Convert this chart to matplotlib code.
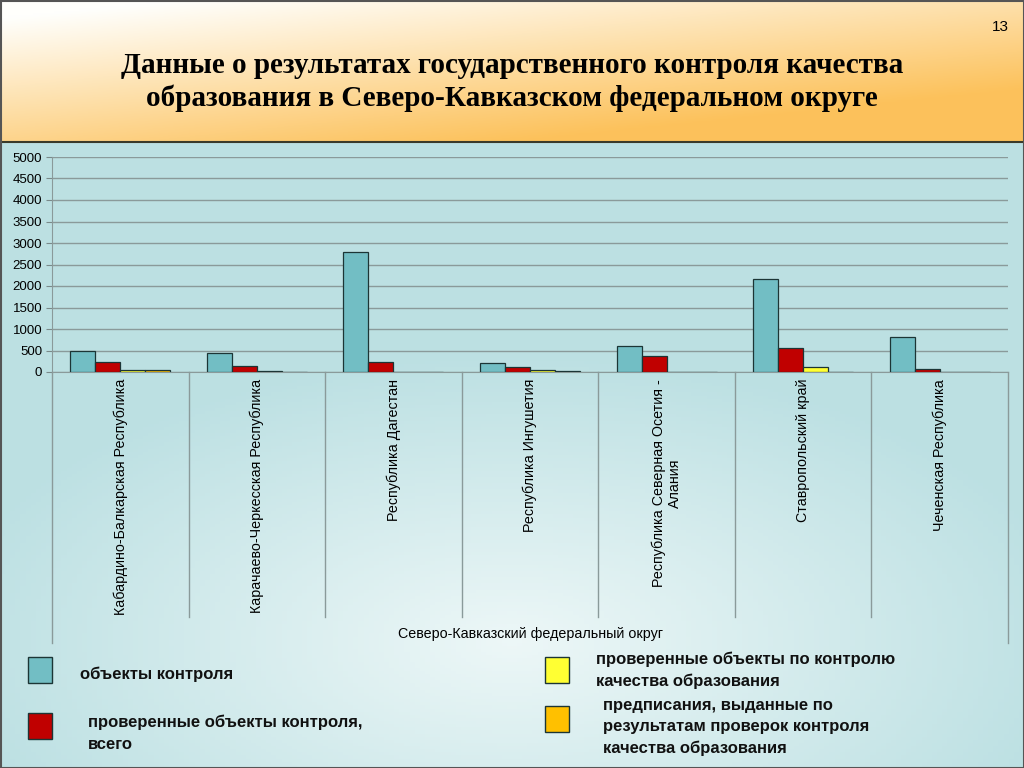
import numpy as np
import matplotlib
matplotlib.use('Agg')
import matplotlib.pyplot as plt
from matplotlib.patches import Rectangle

regions = ['Кабардино-Балкарская Республика', 'Карачаево-Черкесская Республика',
           'Республика Дагестан', 'Республика Ингушетия',
           'Республика Северная Осетия -\nАлания', 'Ставропольский край', 'Чеченская Республика']
objects_total = [490, 435, 2785, 200, 605, 2160, 815]
checked_total = [230, 140, 240, 115, 380, 550, 65]
checked_quality = [55, 25, 5, 35, 0, 125, 8]
orders_issued = [40, 8, 8, 25, 0, 8, 5]
yticks = [0, 500, 1000, 1500, 2000, 2500, 3000, 3500, 4000, 4500, 5000]

series_names = ['объекты контроля', 'проверенные объекты контроля,\nвсего',
                'проверенные объекты по контролю\nкачества образования',
                'предписания, выданные по\nрезультатам проверок контроля\nкачества образования']
colors = ['#72bec4', '#c00000', '#ffff33', '#ffc000']

W, H = 1024, 768
fig = plt.figure(figsize=(10.24, 7.68), dpi=100)

# фон слайда
bg = fig.add_axes([0, 0, 1, 1])
bg.set_xlim(0, W)
bg.set_ylim(H, 0)
bg.axis('off')
gx, gy = np.meshgrid(np.linspace(0, 1, 200), np.linspace(0, 1, 60))
t = np.clip(0.6 * gx + 0.8 * gy - 0.1, 0, 1)
white = np.array([1.0, 1.0, 0.99])
orange = np.array([0.99, 0.76, 0.36])
head = white + (orange - white) * t[..., None]
bg.imshow(head, extent=[0, W, 142, 0], aspect='auto', zorder=0)
bx, by = np.meshgrid(np.linspace(-1, 1, 200), np.linspace(-1, 1, 200))
r = np.clip(np.sqrt((bx * 0.9) ** 2 + ((by - 0.6) * 1.1) ** 2), 0, 1)
light = np.array([0.93, 0.97, 0.97])
teal = np.array([0.74, 0.88, 0.89])
body = light + (teal - light) * r[..., None]
bg.imshow(body, extent=[0, W, H, 142], aspect='auto', zorder=0)
bg.plot([0, W], [142, 142], color='#3a3a2a', lw=1.5, zorder=1)
bg.add_patch(Rectangle((0.5, 0.5), W - 1, H - 1, fill=False, ec='#555555', lw=1.5, zorder=1))

fig.text(1000 / W, 1 - 27 / H, '13', fontsize=11, family='Liberation Sans', ha='center', va='center')
fig.text(512 / W, 1 - 82 / H,
         'Данные о результатах государственного контроля качества\nобразования в Северо-Кавказском федеральном округе',
         fontsize=21, fontweight='bold', family='Liberation Serif', ha='center', va='center', linespacing=1.3)

ax = fig.add_axes([52 / W, 1 - 372 / H, 956 / W, 215 / H])
ax.patch.set_alpha(0)
x = np.arange(len(regions))
bw = 0.183
for i, vals in enumerate([objects_total, checked_total, checked_quality, orders_issued]):
    ax.bar(x + (i - 1.5) * bw, vals, bw, color=colors[i], edgecolor='#1c3535', lw=0.9, zorder=3)

ax.set_xlim(-0.5, len(regions) - 0.5)
ax.set_ylim(0, 5000)
ax.set_yticks(yticks)
ax.tick_params(axis='y', labelsize=9.5, length=4, color='#7a8a8a', pad=3)
for lab in ax.get_yticklabels():
    lab.set_family('Liberation Sans')
ax.yaxis.grid(True, color='#8a9a9a', lw=1, zorder=1)
ax.set_axisbelow(True)
for s in ['top', 'right']:
    ax.spines[s].set_visible(False)
ax.spines['left'].set_color('#8a9a9a')
ax.spines['bottom'].set_color('#8a9a9a')

ax.set_xticks(x)
ax.set_xticklabels(regions, rotation=90, va='top', ha='center', fontsize=10.3,
                   family='Liberation Sans', linespacing=1.15)
ax.tick_params(axis='x', length=0, pad=5)

# разделители категорий
trans = ax.get_xaxis_transform()
for b in np.arange(-0.5, len(regions), 1.0):
    low = -(643 - 372) / 215 if b in (-0.5, len(regions) - 0.5) else -(617 - 372) / 215
    ax.plot([b, b], [0, low], color='#8a9a9a', lw=1, transform=trans, clip_on=False)

fig.text(530 / W, 1 - 634 / H, 'Северо-Кавказский федеральный округ', fontsize=10.3,
         family='Liberation Sans', ha='center', va='center')

# легенда
legend_items = [
    (28, 657, 80, 674),
    (28, 713, 88, 733),
    (545, 657, 596, 670),
    (545, 706, 603, 727),
]
for (sx, sy, tx, ty), c, name in zip(legend_items, colors, series_names):
    bg.add_patch(Rectangle((sx, sy), 24, 26, fc=c, ec='#1c3535', lw=1, zorder=2))
    bg.text(tx, ty, name, fontsize=12, fontweight='bold', family='Liberation Sans',
            ha='left', va='center', linespacing=1.55, color='#111111', zorder=2)

fig.savefig('out.png', dpi=100)
